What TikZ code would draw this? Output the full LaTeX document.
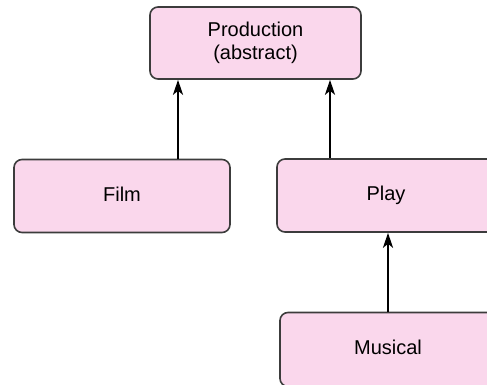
\documentclass[tikz,border=0pt]{standalone}
\usepackage{fontspec}
\setmainfont{Liberation Sans}
\usepackage{tikz}
\usetikzlibrary{positioning,calc,arrows.meta}
\usepackage{xcolor}
\definecolor{boxpink}{RGB}{250,215,236}
\definecolor{boxedge}{RGB}{60,60,60}

\begin{document}
\begin{tikzpicture}[x=1pt,y=-1pt,
    cls/.style={rectangle,rounded corners=8pt,draw=boxedge,line width=1.6pt,fill=boxpink,minimum height=73pt,inner sep=0pt,align=center,font=\fontsize{20}{23}\selectfont},
    oneline/.style={text height=14.5pt,text depth=4pt},
    inherit/.style={-{Stealth[length=15pt,width=10pt,inset=4pt]},line width=2.2pt}]
\useasboundingbox (0,0) rectangle (487,385);

\node[cls,minimum width=211pt,minimum height=72pt] (prod) at (255.5,43) {Production\\(abstract)};
\node[cls,oneline,minimum width=216pt] (film) at (122,196) {Film};
\node[cls,oneline,minimum width=218pt] (play) at (386,195.5) {Play};
\node[cls,oneline,minimum width=216pt,minimum height=74pt] (musical) at (388,349.5) {Musical};

\draw[inherit] ([xshift=56pt]film.north) -- ([xshift=56pt]film.north |- prod.south);
\draw[inherit] ([xshift=-56pt]play.north) -- ([xshift=-56pt]play.north |- prod.south);
\draw[inherit] (musical.north) -- (musical.north |- play.south);
\end{tikzpicture}
\end{document}
